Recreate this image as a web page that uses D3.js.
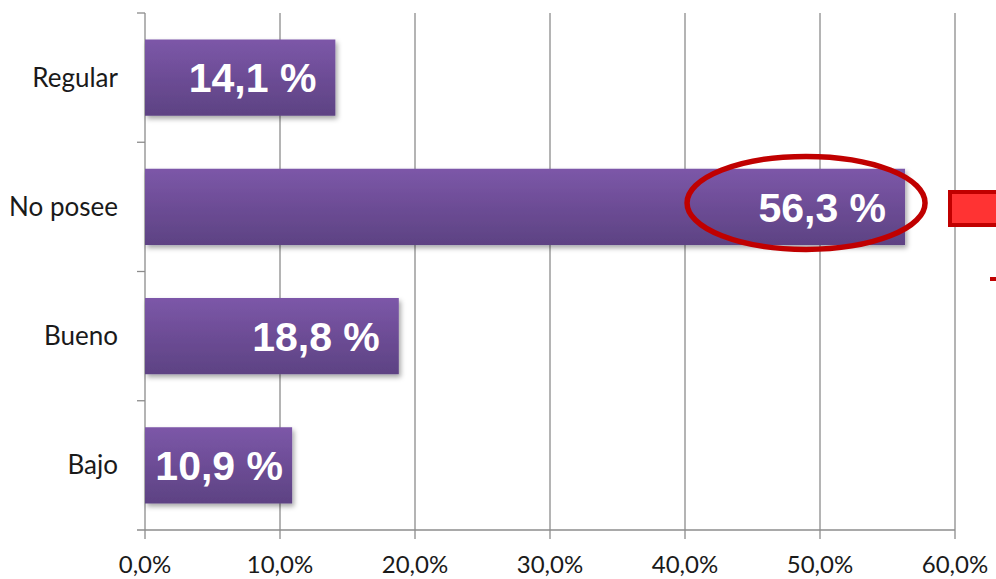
<!DOCTYPE html>
<html><head><meta charset="utf-8">
<script src="https://cdn.jsdelivr.net/npm/d3@7"></script>
<style>html,body{margin:0;padding:0;background:#fff;}svg{display:block;}</style>
</head><body><div id="chart"></div>
<script>
const categories = ["Regular", "No posee", "Bueno", "Bajo"];
const values = [14.1, 56.3, 18.8, 10.9];
const valueLabels = ["14,1 %", "56,3 %", "18,8 %", "10,9 %"];
const xTicks = [0, 10, 20, 30, 40, 50, 60];
const tickLabels = ["0,0%", "10,0%", "20,0%", "30,0%", "40,0%", "50,0%", "60,0%"];
const highlight = "No posee";

const W = 996, H = 579;
const m = {left: 145, right: 41, top: 13, bottom: 49};
const svg = d3.select("#chart").append("svg").attr("width", W).attr("height", H);
const defs = svg.append("defs");
const grad = defs.append("linearGradient").attr("id","barg").attr("x1",0).attr("y1",0).attr("x2",0).attr("y2",1);
grad.append("stop").attr("offset","0%").attr("stop-color","#7C57A8");
grad.append("stop").attr("offset","100%").attr("stop-color","#5D4283");
const f = defs.append("filter").attr("id","sh").attr("x","-10%").attr("y","-20%").attr("width","130%").attr("height","160%");
f.append("feDropShadow").attr("dx",2).attr("dy",3).attr("stdDeviation",2.5).attr("flood-color","#000").attr("flood-opacity",0.35);

const x = d3.scaleLinear().domain([0, 60]).range([m.left, W - m.right]);
const y = d3.scaleBand().domain(categories).range([m.top, H - m.bottom]).paddingInner(0.41).paddingOuter(0.205);
const y0 = m.top, y1 = H - m.bottom;

// grid lines
svg.append("g").selectAll("line").data(xTicks.filter(d => d > 0)).join("line")
  .attr("x1", d => x(d)).attr("x2", d => x(d)).attr("y1", y0).attr("y2", y1 + 9)
  .attr("stroke", "#8c8c8c").attr("stroke-width", 1.3);

// y axis line and ticks at category boundaries
const step = (y1 - y0) / categories.length;
svg.append("line").attr("x1", x(0)).attr("x2", x(0)).attr("y1", y0).attr("y2", y1 + 9)
  .attr("stroke", "#8c8c8c").attr("stroke-width", 1.3);
svg.append("g").selectAll("line").data(d3.range(categories.length)).join("line")
  .attr("x1", x(0) - 8).attr("x2", x(0)).attr("y1", i => y0 + i * step).attr("y2", i => y0 + i * step)
  .attr("stroke", "#8c8c8c").attr("stroke-width", 1.3);
// x axis line
svg.append("line").attr("x1", x(0) - 8).attr("x2", x(60)).attr("y1", y1).attr("y2", y1)
  .attr("stroke", "#8c8c8c").attr("stroke-width", 1.3);

// bars
svg.append("g").selectAll("rect").data(categories).join("rect")
  .attr("x", x(0)).attr("y", d => y(d)).attr("width", (d, i) => x(values[i]) - x(0)).attr("height", y.bandwidth())
  .attr("fill", "url(#barg)").attr("filter", "url(#sh)");

// value labels
svg.append("g").selectAll("text").data(categories).join("text")
  .attr("x", (d, i) => Math.max(x(values[i]) - 19, x(0) + 8 + 130))
  .attr("y", d => y(d) + y.bandwidth() / 2)
  .attr("dy", "0.36em").attr("text-anchor", "end")
  .attr("font-family", "Liberation Sans, Arial, sans-serif").attr("font-weight", "bold").attr("font-size", 41)
  .attr("fill", "#fff").text((d, i) => valueLabels[i]);

// category labels
svg.append("g").selectAll("text").data(categories).join("text")
  .attr("x", x(0) - 27).attr("y", d => y(d) + y.bandwidth() / 2).attr("dy", "0.35em")
  .attr("text-anchor", "end").attr("font-family", "Lato, Carlito, sans-serif").attr("font-size", 26)
  .attr("fill", "#1a1a1a").text(d => d);

// x tick labels
svg.append("g").selectAll("text").data(xTicks).join("text")
  .attr("x", d => x(d)).attr("y", 573).attr("text-anchor", "middle")
  .attr("font-family", "Lato, Carlito, sans-serif").attr("font-size", 24)
  .attr("fill", "#1a1a1a").text((d, i) => tickLabels[i]);

// highlight ellipse
const hi = categories.indexOf(highlight);
svg.append("ellipse")
  .attr("cx", x(values[hi]) - 99).attr("cy", y(highlight) + y.bandwidth() / 2 - 4)
  .attr("rx", 119).attr("ry", 46.5)
  .attr("fill", "none").attr("stroke", "#C00000").attr("stroke-width", 5.5);

// red arrow fragment at right edge
svg.append("rect").attr("x", 950).attr("y", 192).attr("width", 60).attr("height", 33)
  .attr("fill", "#FF3333").attr("stroke", "#C00000").attr("stroke-width", 4);
svg.append("rect").attr("x", 990).attr("y", 277).attr("width", 8).attr("height", 4).attr("fill", "#C00000");
</script></body></html>
